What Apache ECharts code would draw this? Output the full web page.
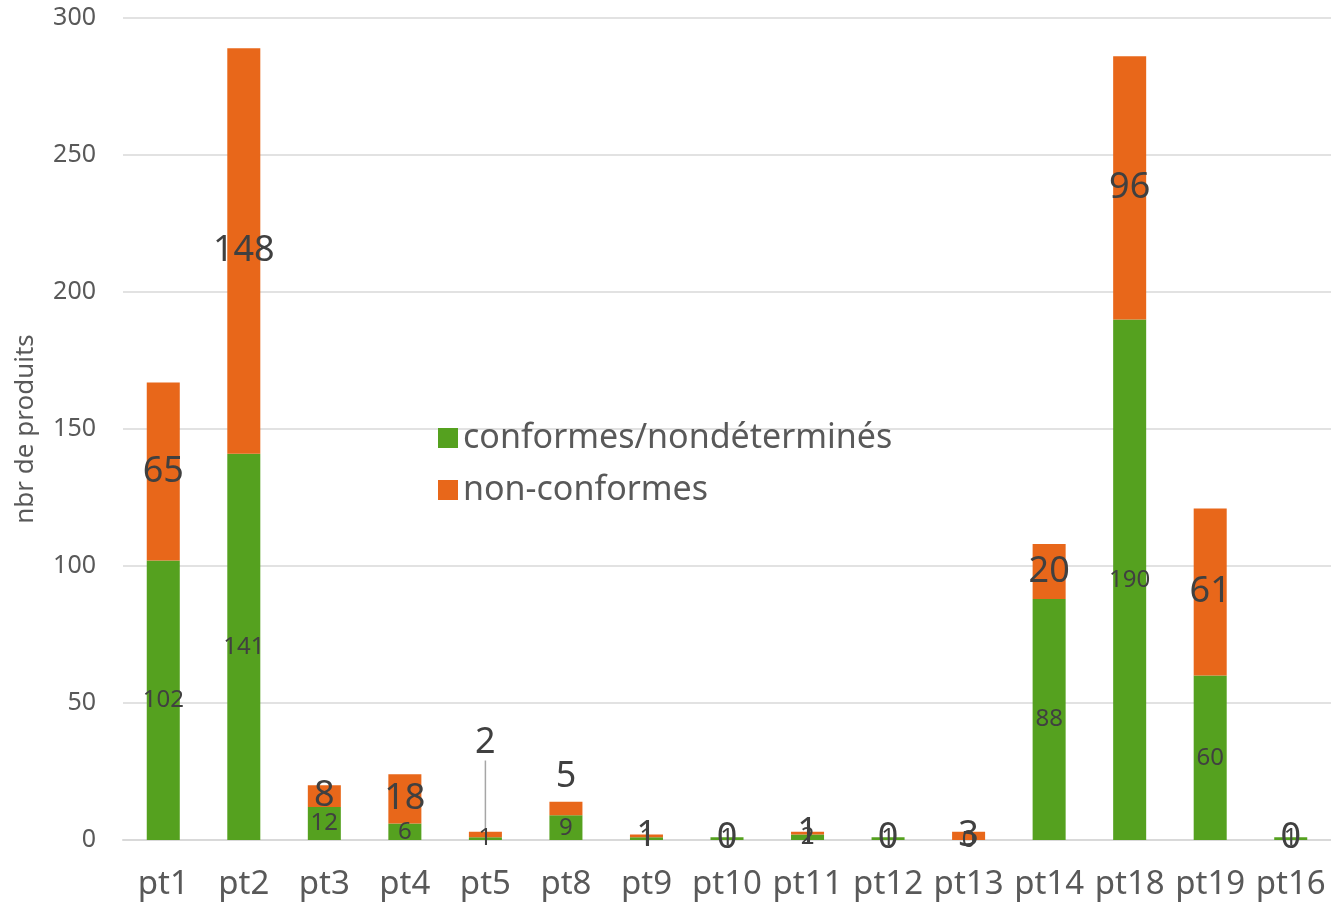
<!DOCTYPE html>
<html><head><meta charset="utf-8">
<script src="https://cdn.jsdelivr.net/npm/echarts@6/dist/echarts.min.js"></script>
<style>html,body{margin:0;padding:0;background:#fff}#c{width:1331px;height:909px}</style>
</head><body><div id="c"></div>
<script>
const categories = ['pt1','pt2','pt3','pt4','pt5','pt8','pt9','pt10','pt11','pt12','pt13','pt14','pt18','pt19','pt16'];
const conformes = [102,141,12,6,1,9,1,1,2,1,0,88,190,60,1];
const nonConformes = [65,148,8,18,2,5,1,0,1,0,3,20,96,61,0];
const yTicks = [0,50,100,150,200,250,300];

const FONT = 'Noto Sans';
const chart = echarts.init(document.getElementById('c'));
chart.setOption({
  animation:false,
  textStyle:{fontFamily:FONT},
  grid:{left:123,right:0,top:18,bottom:69},
  legend:{
    orient:'vertical', left:433, top:416, itemWidth:20, itemHeight:20, itemGap:18,
    icon:'rect',
    textStyle:{fontSize:34,color:'#595959',fontFamily:FONT},
    data:['conformes/nondéterminés','non-conformes']
  },
  xAxis:{
    type:'category', data:categories,
    axisLine:{lineStyle:{color:'#d9d9d9',width:2}},
    axisTick:{show:false},
    axisLabel:{fontSize:33,color:'#595959',margin:28,interval:0}
  },
  yAxis:{
    type:'value', min:yTicks[0], max:yTicks[yTicks.length-1], interval:50,
    name:'nbr de produits', nameLocation:'middle', nameGap:84, nameRotate:90,
    nameTextStyle:{fontSize:26,color:'#595959',fontFamily:FONT},
    axisLine:{show:false}, axisTick:{show:false},
    axisLabel:{fontSize:25,color:'#595959',margin:27},
    splitLine:{lineStyle:{color:'#d9d9d9',width:1.5}}
  },
  series:[
    {
      name:'conformes/nondéterminés', type:'bar', stack:'s', barWidth:'41%',
      itemStyle:{color:'#55A11F'},
      label:{show:true,position:'inside',fontSize:24,color:'#404040'},
      data:conformes
    },
    {
      name:'non-conformes', type:'bar', stack:'s', barWidth:'41%',
      itemStyle:{color:'#E8671A'},
      label:{show:true,position:'inside',fontSize:36,color:'#404040'},
      labelLayout:function(p){
        if(p.dataIndex===4) return {dy:-92};
        if(p.dataIndex===5) return {dy:-32};
        return {};
      },
      labelLine:{show:true,lineStyle:{color:'#a6a6a6',width:1.5},length2:0},
      data:nonConformes.map(function(v,i){
        return i===4 ? v : {value:v, labelLine:{show:false}};
      })
    }
  ]
});
</script></body></html>
